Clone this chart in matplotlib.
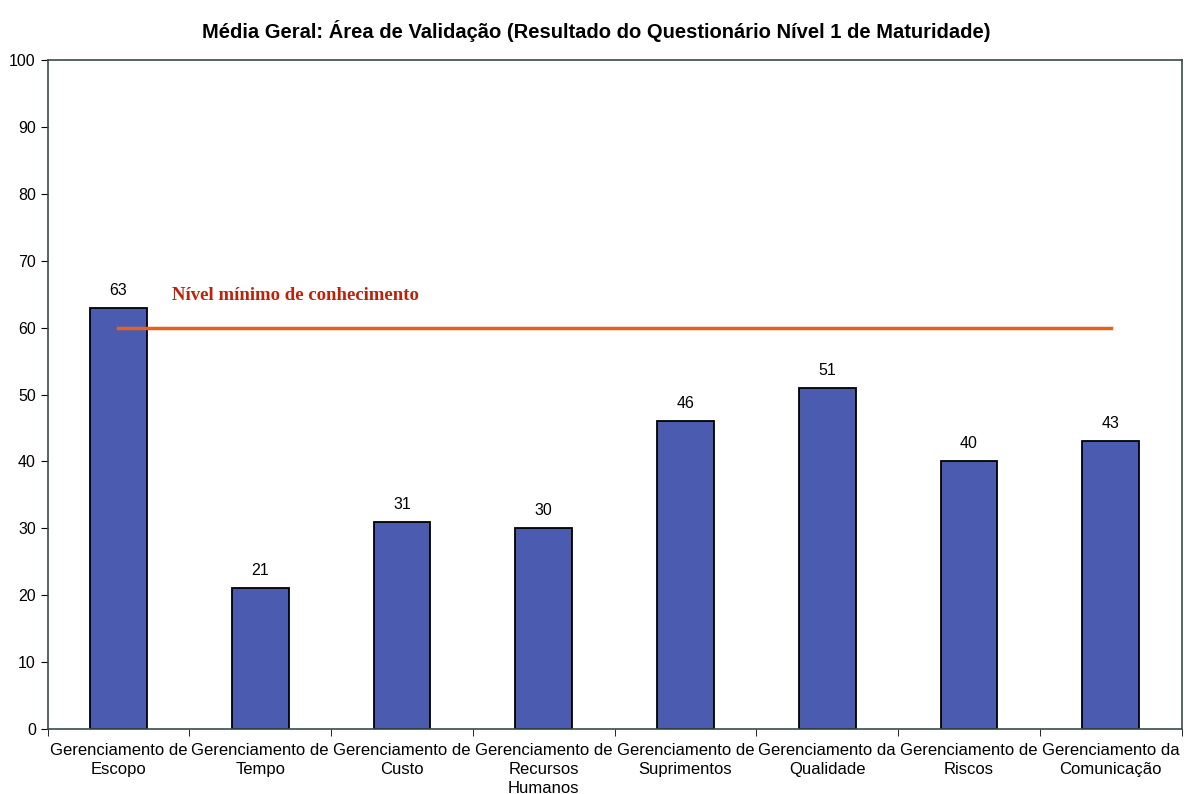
import numpy as np
import matplotlib.pyplot as plt

categorias = [
    "Gerenciamento de\nEscopo",
    "Gerenciamento de\nTempo",
    "Gerenciamento de\nCusto",
    "Gerenciamento de\nRecursos\nHumanos",
    "Gerenciamento de\nSuprimentos",
    "Gerenciamento da\nQualidade",
    "Gerenciamento de\nRiscos",
    "Gerenciamento da\nComunicação",
]
medias = [63, 21, 31, 30, 46, 51, 40, 43]
nivel_minimo = 60

plt.rcParams['font.family'] = ['Liberation Sans', 'DejaVu Sans']

fig = plt.figure(figsize=(11.9, 7.94), dpi=100)
ax = fig.add_axes([0.040, 0.082, 0.953, 0.842])

x = np.arange(len(categorias))
ax.bar(x, medias, width=0.4, color='#4b5cb0', edgecolor='black', linewidth=1.3, zorder=2)
for xi, v in zip(x, medias):
    ax.text(xi, v + 1.5, str(v), ha='center', va='bottom', fontsize=11.5)

# linha de referência
ax.plot([x[0], x[-1]], [nivel_minimo, nivel_minimo], color='#e5611f', linewidth=2.5, zorder=3)
ax.text(0.38, nivel_minimo + 3.5, "Nível mínimo de conhecimento", color='#c0200a',
        fontsize=13.5, fontweight='bold', family='Liberation Serif', va='bottom')

ax.set_xlim(-0.5, len(categorias) - 0.5)
ax.set_ylim(0, 100)
ax.set_yticks(np.arange(0, 101, 10))
ax.set_xticks(x)
ax.set_xticklabels(categorias, fontsize=12, linespacing=1.35)
ax.set_xticks(np.arange(-0.5, len(categorias), 1), minor=True)
ax.tick_params(axis='x', which='major', length=0, pad=10)
ax.tick_params(axis='x', which='minor', length=5)
ax.tick_params(axis='y', labelsize=11.5, length=5)
for s in ax.spines.values():
    s.set_color('#3a4a4a')
    s.set_linewidth(1.2)

ax.set_title("Média Geral: Área de Validação (Resultado do Questionário Nível 1 de Maturidade)",
             fontsize=14.5, fontweight='bold', pad=16, x=0.484)

fig.savefig("out.png", dpi=100)
